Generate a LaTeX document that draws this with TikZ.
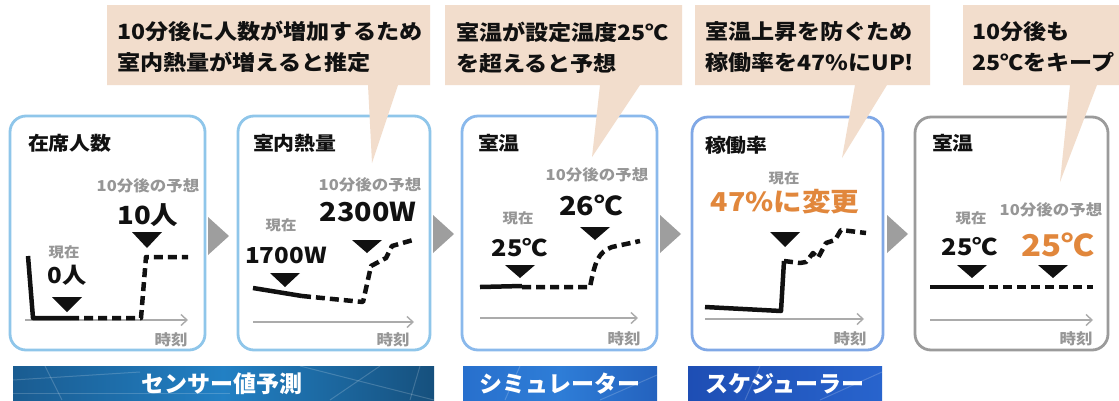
\documentclass[tikz,border=0pt]{standalone}
\usepackage{fontspec}
\setmainfont{Noto Sans CJK JP}[FakeStretch=1.1]
\newfontfamily\bannerfont{Noto Sans CJK JP}
\usetikzlibrary{arrows.meta}
\definecolor{bub}{RGB}{242,221,204}
\definecolor{pblue}{RGB}{143,198,234}
\definecolor{pblueb}{RGB}{138,185,236}
\definecolor{pbluec}{RGB}{128,168,230}
\definecolor{pgray}{RGB}{155,155,155}
\definecolor{txtgray}{RGB}{150,150,150}
\definecolor{orng}{RGB}{225,135,60}
\definecolor{arrgray}{RGB}{158,158,158}
\definecolor{ink}{RGB}{17,17,17}
\newcommand{\fs}[1]{\fontsize{#1}{#1}\selectfont}
\tikzset{
  every node/.style={inner sep=0pt, outer sep=0pt, text=ink},
  panelbox/.style={line width=2.8pt, rounded corners=16pt, fill=white},
  ttl/.style={font=\bfseries\fs{19}, anchor=west},
  bubtxt/.style={font=\bfseries\fontsize{21}{31}\selectfont, anchor=west, align=left},
  graytxt/.style={font=\bfseries\fs{15}, text=txtgray},
  nowtxt/.style={font=\bfseries\fs{14}, text=txtgray},
  timetxt/.style={font=\bfseries\fs{15}, text=txtgray},
  valtxt/.style={font=\bfseries\fs{#1}},
  axisline/.style={draw=txtgray!80, line width=1.4pt, -{Straight Barb[length=6pt,width=11pt,line width=1.4pt]}},
  solidline/.style={line width=4.5pt, line join=round, draw=ink},
  dashline/.style={line width=4.5pt, dash pattern=on 9pt off 5pt, line join=round, draw=ink},
  marker/.style={fill=ink},
  flowarrow/.style={fill=arrgray},
  bannertxt/.style={font=\bannerfont\bfseries\fs{23}, text=white},
  deco/.style={draw=white, opacity=0.18, line width=1pt}
}
\begin{document}
\begin{tikzpicture}[x=1pt,y=-1pt]
\useasboundingbox (0,0) rectangle (1119,400);
\fill[white] (0,0) rectangle (1119,400);

% ---------------- panels
\draw[panelbox, draw=pblue]  (10,116) rectangle (205,350);
\draw[panelbox, draw=pblue]  (238,116) rectangle (430,350);
\draw[panelbox, draw=pblueb] (462,116) rectangle (657,350);
\draw[panelbox, draw=pbluec] (692,117) rectangle (883,350);
\draw[panelbox, draw=pgray]  (915,117) rectangle (1108,350);

% flow arrows
\fill[flowarrow] (208,217) -- (208,255) -- (229,236) -- cycle;
\fill[flowarrow] (433,215) -- (433,253) -- (454,234) -- cycle;
\fill[flowarrow] (660,215) -- (660,253) -- (681,234) -- cycle;
\fill[flowarrow] (887,215) -- (887,253) -- (908,234) -- cycle;

% ---------------- bubbles
\fill[bub] (107,5) -- (430,5) -- (430,85) -- (398,85) -- (372,163) -- (368,85) -- (107,85) -- cycle;
\fill[bub] (445,5) -- (682,5) -- (682,85) -- (640,85) -- (592,157) -- (600,85) -- (445,85) -- cycle;
\fill[bub] (695,5) -- (930,5) -- (930,85) -- (887,85) -- (842,158) -- (855,85) -- (695,85) -- cycle;
\fill[bub] (963,5) -- (1119,5) -- (1119,85) -- (1097,85) -- (1060,182) -- (1070,85) -- (963,85) -- cycle;

\node[bubtxt] (b1) at (117,47) {10分後に人数が増加するため\\室内熱量が増えると推定};
\node[bubtxt] (b2) at (456,48) {室温が設定温度25℃\\を超えると予想};
\node[bubtxt] (b3) at (705,47) {室温上昇を防ぐため\\稼働率を47\%にUP!};
\node[bubtxt] (b4) at (972,47) {10分後も\\25℃をキープ};

% ---------------- panel 1
\node[ttl] (t1) at (28,143) {在席人数};
\draw[axisline] (25,320) -- (188,320);
\draw[solidline] (28,256) -- (33,318) -- (70,318);
\draw[dashline] (70,318) -- (141,318) -- (146,257) -- (188,257);
\node[nowtxt] (n1) at (64,252) {現在};
\node[valtxt=22] (v1) at (67,275) {0人};
\fill[marker] (52,297) -- (82,297) -- (67,312) -- cycle;
\node[graytxt] (f1) at (148,186) {10分後の予想};
\node[valtxt=25] (w1) at (148,215) {10人};
\fill[marker] (132,232) -- (162,232) -- (147,248) -- cycle;
\node[timetxt] (h1) at (171,340) {時刻};

% ---------------- panel 2
\node[ttl] (t2) at (253,143) {室内熱量};
\draw[axisline] (253,322) -- (414,322);
\draw[solidline] (253,288) -- (302,296);
\draw[dashline] (302,296) -- (363,302) -- (371,266) -- (386,258) -- (392,246) -- (413,240);
\node[nowtxt] (n2) at (281,225) {現在};
\node[valtxt=22] (v2) at (286,255) {1700W};
\fill[marker] (270,273) -- (300,273) -- (285,287) -- cycle;
\node[graytxt] (f2) at (370,185) {10分後の予想};
\node[valtxt=26] (w2) at (368,212) {2300W};
\fill[marker] (352,240) -- (382,240) -- (367,253) -- cycle;
\node[timetxt] (h2) at (393,340) {時刻};

% ---------------- panel 3
\node[ttl] (t3) at (478,143) {室温};
\draw[axisline] (480,318) -- (638,318);
\draw[solidline] (480,287) -- (522,286);
\draw[dashline] (522,287) -- (590,287) .. controls (595,262) and (598,252) .. (612,247) -- (640,241);
\node[nowtxt] (n3) at (518,218) {現在};
\node[valtxt=23] (v3) at (520,248) {25℃};
\fill[marker] (505,265) -- (535,265) -- (520,278) -- cycle;
\node[graytxt] (f3) at (597,175) {10分後の予想};
\node[valtxt=26] (w3) at (591,205) {26℃};
\fill[marker] (580,227) -- (610,227) -- (595,240) -- cycle;
\node[timetxt] (h3) at (624,339) {時刻};

% ---------------- panel 4
\node[ttl] (t4) at (705,145) {稼働率};
\draw[axisline] (705,319) -- (864,319);
\draw[solidline] (705,307) -- (781,311) -- (784,261);
\draw[dashline] (784,261) -- (800,263) -- (806,262) -- (813,253) -- (818,258) -- (826,243) -- (835,240) -- (841,230) -- (866,233);
\node[nowtxt] (n4) at (784,178) {現在};
\node[valtxt=26, text=orng] (v4) at (785,202) {47\%に変更};
\fill[marker] (770,232) -- (800,232) -- (785,247) -- cycle;
\node[timetxt] (h4) at (850,339) {時刻};

% ---------------- panel 5
\node[ttl] (t5) at (932,143) {室温};
\draw[axisline] (930,320) -- (1093,320);
\draw[solidline] (930,287) -- (975,287);
\draw[dashline] (975,287) -- (1093,287);
\node[nowtxt] (n5) at (971,218) {現在};
\node[valtxt=23] (v5) at (970,247) {25℃};
\fill[marker] (957,265) -- (987,265) -- (972,278) -- cycle;
\node[graytxt] (f5) at (1051,210) {10分後の予想};
\node[valtxt=30, text=orng] (w5) at (1058,245) {25℃};
\fill[marker] (1038,265) -- (1068,265) -- (1053,278) -- cycle;
\node[timetxt] (h5) at (1076,339) {時刻};

% ---------------- banners
\begin{scope}
\clip (13,366) rectangle (434,400);
\shade[left color={rgb,255:red,26;green,92;blue,145}, right color={rgb,255:red,22;green,80;blue,125}, middle color={rgb,255:red,34;green,128;blue,196}] (13,366) rectangle (434,400);
\draw[deco] (45,366) -- (62,400);
\draw[deco] (13,380) -- (140,372);
\draw[deco] (13,393) -- (230,393);
\draw[deco] (300,366) -- (434,400);
\draw[deco] (330,400) -- (380,366);
\draw[deco] (420,366) -- (410,400);
\end{scope}
\node[bannertxt] (s1) at (222,384) {センサー値予測};

\begin{scope}
\clip (463,366) rectangle (657,400);
\shade[left color={rgb,255:red,40;green,112;blue,205}, right color={rgb,255:red,36;green,98;blue,190}, middle color={rgb,255:red,46;green,125;blue,215}] (463,366) rectangle (657,400);
\draw[deco] (520,366) -- (505,400);
\draw[deco] (600,400) -- (657,375);
\end{scope}
\node[bannertxt] (s2) at (560,384) {シミュレーター};

\begin{scope}
\clip (688,366) rectangle (882,400);
\shade[left color={rgb,255:red,30;green,78;blue,180}, right color={rgb,255:red,40;green,100;blue,205}] (688,366) rectangle (882,400);
\draw[deco] (760,366) -- (745,400);
\draw[deco] (820,400) -- (882,372);
\end{scope}
\node[bannertxt] (s3) at (785,384) {スケジューラー};
\end{tikzpicture}
\end{document}
